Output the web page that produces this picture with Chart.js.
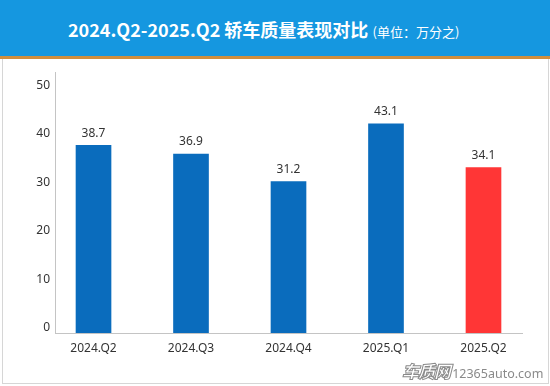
<!DOCTYPE html>
<html>
<head>
<meta charset="utf-8">
<script src="https://cdn.jsdelivr.net/npm/chart.js@4/dist/chart.umd.min.js"></script>
<style>
  html,body{margin:0;padding:0;background:#fff;}
  #wrap{position:relative;width:550px;height:386px;overflow:hidden;background:#fff;font-family:"Noto Sans","Noto Sans CJK SC",sans-serif;}
  #header{position:absolute;left:0;top:0;width:550px;height:56px;background:#1597e0;border-bottom:3px solid #d08e3e;}
  #title{position:absolute;left:68px;top:0;height:56px;line-height:58px;color:#fff;white-space:nowrap;}
  #title .main{font-family:"Noto Sans CJK SC","Noto Sans",sans-serif;font-weight:bold;font-size:18px;}
  #title .unit{font-family:"Noto Sans CJK SC",sans-serif;font-size:13px;}
  #frame{position:absolute;left:2px;top:59px;width:545px;height:324px;border:1px solid #d6d6d6;border-top:none;}
  #c{position:absolute;left:0;top:0;}
  #wm{position:absolute;left:402px;top:358px;white-space:nowrap;color:#8a8a8a;}
  #wm .cn{font-family:"Noto Sans CJK SC",sans-serif;font-weight:900;font-size:17px;color:#fff;-webkit-text-stroke:1px #8a8a8a;font-style:italic;letter-spacing:-1px;}
  #wm .en{font-family:"Noto Sans",sans-serif;font-size:12.5px;color:#8a8a8a;margin-left:-2px;}
</style>
</head>
<body>
<div id="wrap">
  <div id="header"></div>
  <div id="title"><span class="main">2024.Q2-2025.Q2 轿车质量表现对比</span> <span class="unit">(单位：万分之)</span></div>
  <div id="frame"></div>
  <canvas id="c" width="550" height="386"></canvas>
  <div id="wm"><span class="cn">车质网</span> <span class="en">12365auto.com</span></div>
</div>
<script>
const categories = ['2024.Q2', '2024.Q3', '2024.Q4', '2025.Q1', '2025.Q2'];
const values = [38.7, 36.9, 31.2, 43.1, 34.1];
const yTicks = [0, 10, 20, 30, 40, 50];

const BLUE = '#0a6cbd';
const RED = '#ff3636';
const barColors = categories.map((c, i) => i === categories.length - 1 ? RED : BLUE);

const valueLabels = {
  id: 'valueLabels',
  afterDatasetsDraw(chart) {
    const ctx = chart.ctx;
    const meta = chart.getDatasetMeta(0);
    ctx.save();
    ctx.font = '12px "Noto Sans", sans-serif';
    ctx.fillStyle = '#333';
    ctx.textAlign = 'center';
    ctx.textBaseline = 'middle';
    meta.data.forEach((el, i) => {
      ctx.fillText(values[i].toFixed(1), el.x, el.y - 12);
    });
    ctx.restore();
  }
};

new Chart(document.getElementById('c'), {
  type: 'bar',
  data: {
    datasets: [{
      data: values.map((v, i) => ({ x: i, y: v })),
      backgroundColor: barColors,
      barThickness: 35
    }]
  },
  options: {
    responsive: false,
    animation: false,
    layout: { padding: { left: 0, top: 72, right: 28, bottom: 0 } },
    plugins: { legend: { display: false }, tooltip: { enabled: false } },
    scales: {
      x: {
        type: 'linear',
        offset: false,
        min: -0.395,
        max: 4.395,
        grid: { display: false, drawTicks: false },
        border: { display: true, color: '#c4c4c4', width: 1 },
        afterBuildTicks: ax => { ax.ticks = categories.map((_, i) => ({ value: i })); },
        afterFit: s => { s.height = 53; },
        ticks: {
          callback: v => categories[v],
          autoSkip: false,
          maxRotation: 0,
          padding: 8,
          color: '#333',
          font: { family: '"Noto Sans", sans-serif', size: 12 }
        }
      },
      y: {
        min: 0,
        max: 53.8,
        grid: { display: false, drawTicks: false },
        border: { display: true, color: '#c4c4c4', width: 1 },
        afterBuildTicks: ax => { ax.ticks = yTicks.map(v => ({ value: v })); },
        afterFit: s => { s.width = 55; },
        ticks: {
          padding: 5,
          labelOffset: -5,
          color: '#333',
          font: { family: '"Noto Sans", sans-serif', size: 12 }
        }
      }
    }
  },
  plugins: [valueLabels]
});
</script>
</body>
</html>
